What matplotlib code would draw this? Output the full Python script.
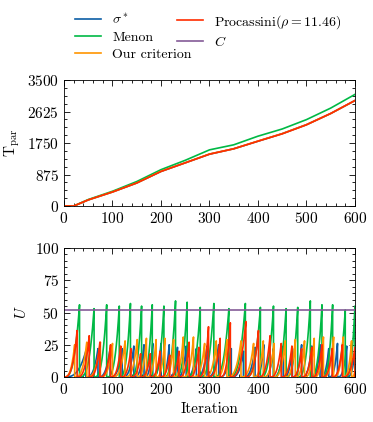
import numpy as np
import matplotlib.pyplot as plt
from matplotlib.ticker import AutoMinorLocator, MultipleLocator

plt.rcParams['font.family'] = ['cmr10']
plt.rcParams['mathtext.fontset'] = 'cm'
plt.rcParams['axes.formatter.use_mathtext'] = True
plt.rcParams['font.size'] = 11

# colours of the "science" style
blue, green, orange, red, purple = '#0C5DA5', '#00B945', '#FF9500', '#FF2C00', '#845B97'

# cumulative parallel time, read at a few iterations
t_iter = [0, 20, 50, 100, 150, 200, 250, 300, 350, 400, 450, 500, 550, 600]
t_sigma = [0, 0, 170, 390, 640, 960, 1200, 1440, 1590, 1800, 2010, 2260, 2570, 2930]
t_menon = [0, 0, 180, 410, 680, 1010, 1270, 1560, 1700, 1940, 2140, 2400, 2720, 3100]
t_ours = [0, 0, 170, 390, 640, 965, 1200, 1445, 1590, 1805, 2010, 2260, 2570, 2930]
t_proc = [0, 0, 170, 390, 640, 960, 1200, 1440, 1590, 1800, 2005, 2255, 2570, 2930]

# imbalance U: iterations where load balancing resets U, and U just before
lb_sigma = [45, 70, 95, 120, 144, 165, 183, 200, 217, 234, 252, 273, 295, 319, 345,
            370, 394, 412, 432, 452, 471, 490, 511, 528, 546, 564, 583, 600]
pk_sigma = [20, 22, 22, 22, 24, 25, 26, 26, 25, 23, 24, 22, 24, 25, 22,
            20, 23, 25, 22, 24, 22, 25, 24, 25, 22, 26, 24, 20]
lb_menon = [32, 62, 88, 114, 137, 160, 182, 206, 230, 254, 281, 309, 340, 374, 405,
            432, 458, 482, 508, 532, 554, 580, 600]
pk_menon = [56, 53, 56, 55, 57, 55, 56, 55, 59, 58, 54, 57, 53, 57, 54,
            55, 53, 54, 59, 56, 56, 52, 55]
lb_ours = [22, 47, 75, 100, 126, 151, 170, 190, 208, 226, 246, 267, 290, 314, 336,
           365, 391, 411, 433, 456, 477, 496, 516, 535, 556, 576, 593, 600]
pk_ours = [25, 27, 27, 26, 28, 29, 30, 29, 30, 29, 31, 31, 26, 28, 29,
           28, 26, 28, 26, 28, 29, 28, 30, 31, 31, 31, 28, 5]
lb_proc = [27, 52, 74, 96, 117, 138, 158, 178, 198, 218, 237, 258, 278, 298, 322,
           343, 375, 401, 425, 448, 470, 490, 511, 532, 553, 574, 600]
pk_proc = [36, 32, 27, 25, 24, 22, 18, 18, 20, 17, 20, 27, 23, 39, 30,
           42, 43, 36, 32, 26, 24, 22, 23, 25, 22, 25, 23]
c_value = 52


def sawtooth(resets, peaks):
    xs, ys = [], []
    start = 0
    for r, p in zip(resets, peaks):
        i = np.arange(start, r + 1)
        xs += list(i) + [r]
        ys += list(p * ((i - start) / (r - start)) ** 3) + [0]
        start = r
    return xs, ys


fig = plt.figure(figsize=(3.73, 4.22), dpi=100)
ax1 = fig.add_axes([0.1716, 0.5118, 0.780, 0.2986])
ax2 = fig.add_axes([0.1716, 0.1066, 0.780, 0.3057])

lw = 1.2
h1, = ax1.plot(t_iter, t_sigma, color=blue, lw=lw, label=r'$\sigma^*$')
h2, = ax1.plot(t_iter, t_menon, color=green, lw=lw, label='Menon')
h3, = ax1.plot(t_iter, t_ours, color=orange, lw=lw, label='Our criterion')
h4, = ax1.plot(t_iter, t_proc, color=red, lw=lw, label=r'Procassini($\rho = 11.46$)')

for lb, pk, col in [(lb_sigma, pk_sigma, blue), (lb_menon, pk_menon, green),
                    (lb_ours, pk_ours, orange), (lb_proc, pk_proc, red)]:
    x, y = sawtooth(lb, pk)
    ax2.plot(x, y, color=col, lw=lw)
h5, = ax2.plot([0, 600], [c_value, c_value], color=purple, lw=lw, label=r'$C$')

ax1.set_xlim(0, 600)
ax1.set_ylim(0, 3500)
ax1.yaxis.set_major_locator(MultipleLocator(875))
ax1.set_ylabel(r'$\mathrm{T}_{\mathrm{par}}$')
ax2.set_xlim(0, 600)
ax2.set_ylim(0, 100)
ax2.yaxis.set_major_locator(MultipleLocator(25))
ax2.set_ylabel(r'$U$')
ax2.set_xlabel('Iteration')

for ax in (ax1, ax2):
    ax.xaxis.set_major_locator(MultipleLocator(100))
    ax.xaxis.set_minor_locator(AutoMinorLocator())
    ax.yaxis.set_minor_locator(AutoMinorLocator())
    ax.tick_params(which='both', direction='in', top=True, right=True)
    ax.tick_params(which='major', length=4, width=0.6)
    ax.tick_params(which='minor', length=2, width=0.6)
    for s in ax.spines.values():
        s.set_linewidth(0.6)

leg_kw = dict(loc='upper left', frameon=False, fontsize=10, borderpad=0,
              handlelength=1.9, handletextpad=0.8, labelspacing=0.33)
fig.legend(handles=[h1, h2, h3], bbox_to_anchor=(68 / 373, 1 - 6 / 422), **leg_kw)
fig.legend(handles=[h4, h5], bbox_to_anchor=(170 / 373, 1 - 6 / 422), **leg_kw)

fig.savefig('out.png', dpi=100)
